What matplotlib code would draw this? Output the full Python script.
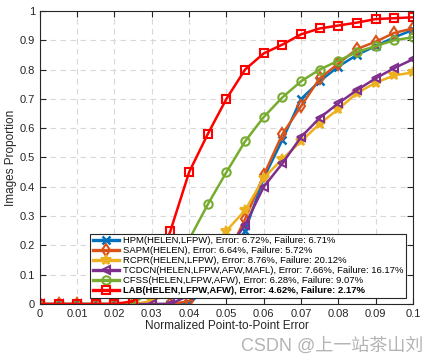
import numpy as np
import matplotlib
matplotlib.use("Agg")
import matplotlib.pyplot as plt

plt.rcParams['font.family'] = ['Liberation Sans', 'Noto Sans CJK SC', 'DejaVu Sans']

# normalized error thresholds
err = [0, 0.005, 0.01, 0.015, 0.02, 0.025, 0.03, 0.035, 0.04, 0.045, 0.05,
       0.055, 0.06, 0.065, 0.07, 0.075, 0.08, 0.085, 0.09, 0.095, 0.1]

hpm = [0, 0, 0, 0, 0, 0, 0, 0, 0.005, 0.05, 0.12, 0.25, 0.43, 0.56, 0.70,
       0.76, 0.81, 0.85, 0.88, 0.91, 0.935]
sapm = [0, 0, 0, 0, 0, 0, 0, 0, 0.01, 0.07, 0.16, 0.29, 0.44, 0.58, 0.675,
        0.77, 0.82, 0.87, 0.895, 0.925, 0.94]
rcpr = [0, 0, 0, 0, 0, 0, 0.01, 0.04, 0.09, 0.16, 0.25, 0.32, 0.43, 0.495,
        0.555, 0.615, 0.665, 0.72, 0.755, 0.78, 0.79]
tcdcn = [0, 0, 0, 0, 0, 0, 0, 0, 0.03, 0.1, 0.18, 0.27, 0.40, 0.48, 0.57,
         0.635, 0.685, 0.73, 0.77, 0.805, 0.835]
cfss = [0, 0, 0, 0, 0, 0, 0.05, 0.12, 0.22, 0.34, 0.45, 0.555, 0.638, 0.705,
        0.76, 0.80, 0.83, 0.86, 0.88, 0.90, 0.91]
lab = [0, 0, 0, 0, 0, 0.01, 0.08, 0.25, 0.45, 0.58, 0.70, 0.80, 0.855,
       0.885, 0.92, 0.94, 0.95, 0.96, 0.972, 0.975, 0.978]

names = ['HPM(HELEN,LFPW), Error: 6.72%, Failure: 6.71%',
         'SAPM(HELEN), Error: 6.64%, Failure: 5.72%',
         'RCPR(HELEN,LFPW), Error: 8.76%, Failure: 20.12%',
         'TCDCN(HELEN,LFPW,AFW,MAFL), Error: 7.66%, Failure: 16.17%',
         'CFSS(HELEN,LFPW,AFW), Error: 6.28%, Failure: 9.07%',
         'LAB(HELEN,LFPW,AFW), Error: 4.62%, Failure: 2.17%']

fig = plt.figure(figsize=(4.38, 3.62), dpi=100)
ax = fig.add_axes([0.091, 0.160, 0.852, 0.810])

ax.plot(err, hpm, color='#0072BD', marker='x', ms=6, mew=1.8, lw=1.8, label=names[0])
ax.plot(err, sapm, color='#D95319', marker='d', ms=6, mfc='none', mew=1.5, lw=1.8, label=names[1])
ax.plot(err, rcpr, color='#EDB120', marker='*', ms=7, mew=1.5, lw=1.8, label=names[2])
ax.plot(err, tcdcn, color='#7E2F8E', marker='<', ms=6, mfc='none', mew=1.5, lw=1.8, label=names[3])
ax.plot(err, cfss, color='#77AC30', marker='o', ms=6, mfc='none', mew=1.5, lw=1.8, label=names[4])
ax.plot(err, lab, color='#FF0000', marker='s', ms=6, mfc='none', mew=1.5, lw=1.8, label=names[5])

ax.set_xlim(0, 0.1)
ax.set_ylim(0, 1)
ax.set_xticks(np.arange(0, 0.101, 0.01))
ax.set_xticklabels(['0', '0.01', '0.02', '0.03', '0.04', '0.05', '0.06', '0.07', '0.08', '0.09', '0.1'])
ax.set_yticks(np.arange(0, 1.01, 0.1))
ax.set_yticklabels(['0', '0.1', '0.2', '0.3', '0.4', '0.5', '0.6', '0.7', '0.8', '0.9', '1'])
ax.tick_params(direction='in', top=True, right=True, labelsize=8, colors='#262626', length=4)
ax.grid(True, linestyle=(0, (5, 4)), color='#d8d8d8', lw=0.8)
for s in ax.spines.values():
    s.set_color('#262626')
    s.set_linewidth(0.8)
ax.set_xlabel('Normalized Point-to-Point Error', fontsize=8.5, color='#262626', labelpad=1)
ax.set_ylabel('Images Proportion', fontsize=8.5, color='#262626', labelpad=2)

leg = ax.legend(loc='lower left', bbox_to_anchor=(0.205, 0.177),
                bbox_transform=fig.transFigure, fontsize=6.8, frameon=True,
                fancybox=False, borderpad=0.3, labelspacing=0.1,
                handlelength=2.8, handletextpad=0.4, borderaxespad=0,
                framealpha=1)
leg.get_frame().set_edgecolor('#262626')
leg.get_frame().set_linewidth(0.8)
leg.get_texts()[5].set_fontweight('bold')
for h in leg.get_lines():
    h.set_linewidth(2.4)

fig.text(0.966, 0.02, 'CSDN @上一站茶山刘', ha='right', va='bottom', fontsize=13,
         color='#b4b4b4')

fig.savefig('out.png', dpi=100)
